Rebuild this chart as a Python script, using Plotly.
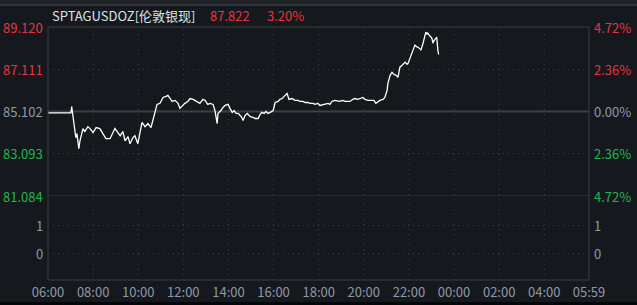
import plotly.graph_objects as go
import pandas as pd

# ---- data ----
times = ["06:00","07:01","07:03","07:09","07:14","07:17","07:22","07:25","07:33","07:38",
         "07:46","07:52","08:00","08:08","08:18","08:26","08:34","08:45","08:53","08:58",
         "09:06","09:12","09:19","09:25","09:33","09:38","09:46","09:51","09:59","10:05",
         "10:10","10:18","10:26","10:34","10:39","10:45","10:50","10:58","11:06","11:14",
         "11:19","11:25","11:30","11:38","11:46","11:51","11:56","12:04","12:12","12:18",
         "12:26","12:31","12:39","12:44","12:52","12:58","13:05","13:11","13:19","13:24",
         "13:30","13:32","13:40","13:45","13:51","13:59","14:04","14:10","14:15","14:20",
         "14:26","14:34","14:39","14:44","14:50","14:58","15:06","15:11","15:19","15:24",
         "15:29","15:35","15:40","15:45","15:51","15:59","16:04","16:12","16:17","16:23",
         "16:28","16:36","16:41","16:49","16:57","17:05","17:10","17:18","17:24","17:31",
         "17:37","17:45","17:50","17:58","18:03","18:11","18:17","18:25","18:30","18:35",
         "18:43","18:51","18:56","19:04","19:10","19:18","19:23","19:31","19:36","19:44",
         "19:50","19:58","20:03","20:11","20:22","20:27","20:32","20:38","20:43","20:51",
         "20:56","21:02","21:04","21:10","21:15","21:20","21:26","21:31","21:36","21:42",
         "21:50","21:55","21:58","22:03","22:08","22:14","22:16","22:22","22:24","22:30",
         "22:32","22:37","22:40","22:45","22:48","22:50","22:56","22:58","23:01","23:04",
         "23:06","23:12","23:14","23:17","23:19"]
prices = [85.04,85.04,85.34,84.53,83.86,84.05,83.33,83.71,84.29,84.15,
          84.38,84.29,84.10,84.34,84.29,84.05,83.81,83.81,84.15,84.29,
          84.10,83.95,84.15,83.71,83.91,83.57,83.86,83.95,83.57,84.19,
          84.58,84.38,84.53,84.34,84.67,85.06,85.44,85.49,85.77,85.82,
          85.87,85.72,85.58,85.63,85.49,85.25,85.34,85.49,85.58,85.72,
          85.68,85.63,85.53,85.49,85.68,85.63,85.44,85.49,85.44,85.15,
          84.53,85.01,85.15,85.29,85.39,85.44,85.25,85.06,85.15,85.01,
          85.01,84.86,84.67,84.91,85.01,84.86,84.82,84.77,84.77,84.96,
          85.06,85.01,85.10,85.01,85.06,85.15,85.53,85.58,85.68,85.72,
          85.82,85.96,85.68,85.72,85.63,85.63,85.58,85.58,85.53,85.53,
          85.49,85.49,85.44,85.49,85.39,85.44,85.44,85.49,85.44,85.58,
          85.63,85.58,85.58,85.63,85.58,85.58,85.58,85.68,85.72,85.68,
          85.72,85.77,85.68,85.63,85.63,85.63,85.49,85.58,85.63,85.68,
          85.77,86.11,86.44,86.82,86.97,86.87,86.82,86.73,87.21,87.30,
          87.45,87.35,87.40,87.64,87.88,88.12,88.26,88.16,88.16,88.07,
          88.02,88.31,88.50,88.88,88.78,88.83,88.69,88.64,88.59,88.35,
          88.45,88.59,88.64,88.02,87.822]

symbol = "SPTAGUSDOZ[伦敦银现]"
last_price = "87.822"
last_pct = "3.20%"
prev_close = 85.102

price_ticks = [89.120, 87.111, 85.102, 83.093, 81.084]
price_labels = ["89.120", "87.111", "85.102", "83.093", "81.084"]
pct_labels = ["4.72%", "2.36%", "0.00%", "2.36%", "4.72%"]
vol_ticks = [1, 0]
vol_labels = ["1", "0"]

x_tick_times = ["2024-01-01 06:00","2024-01-01 08:00","2024-01-01 10:00","2024-01-01 12:00",
                "2024-01-01 14:00","2024-01-01 16:00","2024-01-01 18:00","2024-01-01 20:00",
                "2024-01-01 22:00","2024-01-02 00:00","2024-01-02 02:00","2024-01-02 04:00",
                "2024-01-02 05:59"]
x_tick_labels = ["06:00","08:00","10:00","12:00","14:00","16:00","18:00","20:00",
                 "22:00","00:00","02:00","04:00","05:59"]

# ---- style ----
BG = "#15181d"
GRID = "#3a3e44"
BORDER = "#3b3e43"
GRAYTXT = "#8e99a7"
RED = "#e8353d"
GREEN = "#1fb84f"
FONT = "Noto Sans CJK SC, Noto Sans, sans-serif"

x = pd.to_datetime(["2024-01-01 " + t for t in times])

fig = go.Figure()
fig.add_trace(go.Scatter(x=x, y=prices, mode="lines",
                         line=dict(color="#ffffff", width=1.3),
                         xaxis="x", yaxis="y", hoverinfo="skip"))
fig.add_trace(go.Scatter(x=[x[0]], y=[0], mode="markers", marker=dict(opacity=0),
                         xaxis="x", yaxis="y2", hoverinfo="skip"))

W, H = 637, 305
L, R, T, B = 48, 48, 27, 25
ph = H - T - B
split = (280 - 196) / ph

fig.update_layout(
    width=W, height=H, showlegend=False,
    margin=dict(l=L, r=R, t=T, b=B, autoexpand=False),
    paper_bgcolor=BG, plot_bgcolor=BG,
    font=dict(family=FONT, size=13, color=GRAYTXT),
    xaxis=dict(type="date", anchor="y2", domain=[0, 1], automargin=False,
               range=[x_tick_times[0], x_tick_times[-1]],
               tickvals=pd.to_datetime(x_tick_times), ticktext=x_tick_labels,
               showgrid=False, zeroline=False, showline=False, ticks="",
               tickfont=dict(family=FONT, size=13, color=GRAYTXT),
               ticklabelstandoff=3),
    yaxis=dict(domain=[split, 1], range=[price_ticks[-1], price_ticks[0]], automargin=False,
               tickvals=price_ticks, showticklabels=False, showgrid=True,
               gridcolor=GRID, griddash="1px,4px", gridwidth=1, zeroline=False,
               ticks=""),
    yaxis2=dict(domain=[0, split], range=[-0.964, 2.036], automargin=False,
                tickvals=vol_ticks, showticklabels=False, showgrid=True,
                gridcolor=GRID, griddash="1px,4px", gridwidth=1, zeroline=False,
                ticks=""),
)

shapes = []
# vertical dotted grid
for tv in x_tick_times[1:-1]:
    shapes.append(dict(type="line", xref="x", yref="paper", x0=tv, x1=tv, y0=0, y1=1,
                       line=dict(color=GRID, width=1, dash="1px,4px"), layer="below"))
# base line (previous close)
shapes.append(dict(type="line", xref="paper", yref="y", x0=0, x1=1,
                   y0=prev_close, y1=prev_close, line=dict(color="#3d4046", width=2),
                   layer="below"))
# pane separator
shapes.append(dict(type="line", xref="paper", yref="y", x0=0, x1=1,
                   y0=price_ticks[-1], y1=price_ticks[-1], line=dict(color=BORDER, width=1)))
# border
shapes.append(dict(type="rect", xref="paper", yref="paper", x0=0, x1=1, y0=0, y1=1,
                   line=dict(color=BORDER, width=1)))
pw = W - L - R
# top strip
shapes.append(dict(type="rect", xref="paper", yref="paper", x0=-L / pw, x1=1 + R / pw,
                   y0=1 + (T - 5) / ph, y1=1 + T / ph, fillcolor="#202328", line=dict(width=0)))
shapes.append(dict(type="line", xref="paper", yref="paper", x0=-L / pw, x1=1 + R / pw,
                   y0=1 + (T - 5) / ph, y1=1 + (T - 5) / ph, line=dict(color="#4a4d53", width=1)))
# bottom strip
shapes.append(dict(type="rect", xref="paper", yref="paper", x0=-L / pw, x1=1 + R / pw,
                   y0=-B / ph, y1=-(B - 3) / ph, fillcolor="#050607", line=dict(width=0)))
fig.update_layout(shapes=shapes)

ann = []
for i, (v, lab, pl) in enumerate(zip(price_ticks, price_labels, pct_labels)):
    if v > prev_close:
        c = RED
    elif v < prev_close:
        c = GREEN
    else:
        c = GRAYTXT
    ann.append(dict(x=-3 / pw, y=v, xref="paper", yref="y", text=lab, showarrow=False,
                    xanchor="right", yanchor="middle", font=dict(color=c, size=13, family=FONT)))
    ann.append(dict(x=1 + 3 / pw, y=v, xref="paper", yref="y", text=pl, showarrow=False,
                    xanchor="left", yanchor="middle", font=dict(color=c, size=13, family=FONT)))
for v, lab in zip(vol_ticks, vol_labels):
    ann.append(dict(x=-3 / pw, y=v, xref="paper", yref="y2", text=lab, showarrow=False,
                    xanchor="right", yanchor="middle", font=dict(color=GRAYTXT, size=13, family=FONT)))
    ann.append(dict(x=1 + 3 / pw, y=v, xref="paper", yref="y2", text=lab, showarrow=False,
                    xanchor="left", yanchor="middle", font=dict(color=GRAYTXT, size=13, family=FONT)))
# header
ty = 1 + (T - 15) / ph
ann.append(dict(x=(50 - L) / pw, y=ty, xref="paper", yref="paper", text=symbol, showarrow=False,
                xanchor="left", yanchor="middle", font=dict(color="#dde2e8", size=13, family=FONT)))
ann.append(dict(x=(208 - L) / pw, y=ty, xref="paper", yref="paper", text=last_price, showarrow=False,
                xanchor="left", yanchor="middle", font=dict(color=RED, size=13, family=FONT)))
ann.append(dict(x=(265 - L) / pw, y=ty, xref="paper", yref="paper", text=last_pct, showarrow=False,
                xanchor="left", yanchor="middle", font=dict(color=RED, size=13, family=FONT)))
fig.update_layout(annotations=ann)

fig.write_html("out.html")
